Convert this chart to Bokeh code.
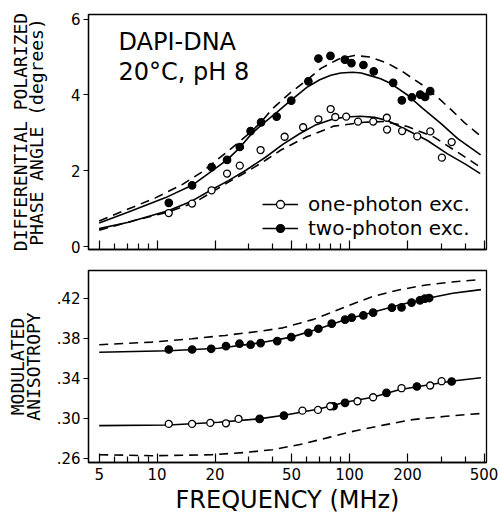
from bokeh.plotting import figure
from bokeh.layouts import column
from bokeh.models import (FixedTicker, LinearAxis, Legend, LegendItem, Range1d, Label,
                          CustomJSTickFormatter)
from bokeh.embed import file_html
from bokeh.resources import INLINE

# ---------------- data ----------------
# Top panel: differential polarized phase angle (degrees)
tp_f = [11.5, 15.2, 19.2, 23.1, 26.9, 30.6, 34.7, 41.8, 49.8, 61.1, 68.9, 79.6, 94.6,
        102.3, 118.1, 133.6, 168.6, 187, 210.9, 232.9, 247, 262.5]
tp_phase = [1.16, 1.62, 2.10, 2.29, 2.63, 3.05, 3.28, 3.43, 3.85, 4.36, 4.96, 5.03, 4.93,
            4.84, 4.79, 4.62, 4.32, 3.86, 3.94, 4.01, 3.95, 4.10]
op_f = [11.5, 15.2, 19.2, 23.1, 26.9, 34.5, 46.0, 57.4, 68.9, 79.8, 84.3, 96.1, 110.7,
        132.8, 156.3, 156.7, 187.6, 224.9, 263, 302, 339.6]
op_phase = [0.89, 1.14, 1.49, 1.93, 2.14, 2.55, 2.90, 3.15, 3.36, 3.63, 3.42, 3.43, 3.30,
            3.30, 3.40, 3.09, 3.05, 2.91, 3.04, 2.35, 2.76]

tp_fit_f = [5, 7.1, 11, 15.2, 19.3, 23.1, 26.5, 31, 35, 42, 49, 60, 70, 80, 90, 104, 115,
            128, 145, 164, 200, 240, 298, 365, 480]
tp_fit = [0.63, 0.92, 1.29, 1.62, 2.0, 2.29, 2.58, 2.98, 3.22, 3.55, 3.84, 4.2, 4.4, 4.52,
          4.58, 4.6, 4.58, 4.51, 4.43, 4.3, 4.0, 3.65, 3.25, 2.85, 2.42]
tp_dash_f = [5, 6.8, 9.8, 13.5, 17.1, 23.6, 30, 34, 40, 49, 62, 71, 88, 106, 128, 157, 188,
             235, 287, 336, 394, 485]
tp_dash = [0.68, 0.96, 1.29, 1.64, 1.97, 2.54, 2.98, 3.24, 3.65, 4.05, 4.45, 4.7, 4.95,
           5.04, 5.0, 4.84, 4.62, 4.29, 3.94, 3.62, 3.28, 2.9]
op_fit_f = [5, 7.1, 11.5, 15.2, 19.3, 23.6, 28.8, 36.6, 45, 55, 66, 80, 95, 114, 135, 157,
            200, 254, 323, 400, 478]
op_fit = [0.48, 0.65, 0.96, 1.21, 1.51, 1.75, 2.01, 2.36, 2.7, 2.98, 3.2, 3.35, 3.42, 3.44,
          3.41, 3.33, 3.07, 2.80, 2.45, 2.18, 1.93]
op_dash_f = [5, 7.7, 11.5, 15.8, 23.6, 30, 36.6, 44, 60, 83, 119, 151, 200, 275, 365, 492]
op_dash = [0.44, 0.70, 0.92, 1.18, 1.71, 2.01, 2.28, 2.55, 2.9, 3.18, 3.28, 3.30, 3.17,
           2.89, 2.49, 2.06]

# Bottom panel: modulated anisotropy
hi_f = [11.5, 15.2, 19.1, 22.8, 26.8, 30.6, 34.5, 42.1, 49.8, 61.1, 68.9, 80.8, 94.8,
        102.7, 118, 132.6, 166, 186.3, 210, 232.2, 246.4, 259.5]
hi_r = [0.3688, 0.3688, 0.3695, 0.3722, 0.3746, 0.3736, 0.3752, 0.3772, 0.3812, 0.3856,
        0.3896, 0.3947, 0.3987, 0.4007, 0.4030, 0.4057, 0.4107, 0.4110, 0.4158, 0.4181,
        0.4198, 0.4204]
lo_open_f = [11.5, 15.2, 18.9, 22.8, 26.5, 56.9, 68.6, 79.4, 110, 132.6, 186.3, 262.5, 301]
lo_open_r = [0.2942, 0.2942, 0.2952, 0.2948, 0.2992, 0.3075, 0.3082, 0.3119, 0.3169,
             0.3209, 0.3300, 0.3327, 0.3370]
lo_fill_f = [34.1, 45.6, 82.6, 94.8, 155.6, 223.9, 339.3]
lo_fill_r = [0.2992, 0.3025, 0.3119, 0.3153, 0.3253, 0.3317, 0.3367]

hi_fit_f = [5, 11.5, 20.9, 34.5, 49.8, 69.3, 94.8, 132, 181, 259.5, 343.6, 482]
hi_fit = [0.3661, 0.3675, 0.370, 0.3756, 0.3812, 0.3895, 0.3987, 0.4062, 0.4135, 0.4205,
          0.4252, 0.4288]
hi_dash_f = [5, 9.4, 15.2, 22.6, 33.9, 45, 65, 95, 130, 180, 250, 340, 482]
hi_dash = [0.3736, 0.3762, 0.3796, 0.3829, 0.387, 0.3905, 0.399, 0.4115, 0.4215, 0.4285,
           0.4335, 0.4365, 0.4389]
lo_fit_f = [5, 11.5, 20.9, 33.9, 46.5, 69.3, 94.8, 132, 181, 259.5, 343.6, 482]
lo_fit = [0.2925, 0.2931, 0.2958, 0.2992, 0.3032, 0.3092, 0.3159, 0.3209, 0.3285, 0.3335,
          0.3372, 0.3404]
lo_dash_f = [5, 9.4, 19.3, 28.8, 39.7, 56.9, 78.2, 107.7, 152, 212.5, 317, 492]
lo_dash = [0.2633, 0.2623, 0.2633, 0.2656, 0.2683, 0.274, 0.2807, 0.2874, 0.2932, 0.2985,
           0.3018, 0.3048]

# ticks
x_ticks = [5, 10, 20, 50, 100, 200, 500]
x_tick_labels = ["5", "10", "20", "50", "100", "200", "500"]
x_minor = [6, 7, 8, 9, 30, 40, 60, 70, 80, 90, 300, 400]
y1_ticks = [0, 2, 4, 6]
y2_ticks = [0.26, 0.30, 0.34, 0.38, 0.42]
y2_tick_labels = [".26", ".30", ".34", ".38", ".42"]

FONT = "DejaVu Sans"
MONO = "DejaVu Sans Mono"
DASH = "9 6"


def base_style(p):
    p.grid.visible = False
    p.outline_line_color = "black"
    p.outline_line_width = 1.3
    p.background_fill_color = "white"
    p.border_fill_color = "white"
    for ax in p.xaxis + p.yaxis:
        ax.axis_line_width = 1.3
        ax.major_tick_line_width = 1.2
        ax.minor_tick_line_width = 1.2
        ax.major_label_text_font = FONT
        ax.major_label_text_font_size = "15px"
        ax.major_label_text_color = "black"
        ax.axis_label_text_font_style = "normal"
        ax.axis_label_text_color = "black"
    xa = p.xaxis[0]
    xa.ticker = FixedTicker(ticks=x_ticks, minor_ticks=x_minor)
    xa.major_tick_in = 9
    xa.major_tick_out = 0
    xa.minor_tick_in = 6
    xa.minor_tick_out = 0
    ya = p.yaxis[0]
    ya.major_tick_in = 0
    ya.major_tick_out = 5
    ya.minor_tick_line_color = None
    ya.major_label_standoff = 3
    ya.axis_label_text_font = MONO


def outer_label(p, text, size, standoff):
    ax = LinearAxis(axis_label=text, ticker=FixedTicker(ticks=[]))
    ax.axis_line_color = None
    ax.major_tick_line_color = None
    ax.minor_tick_line_color = None
    ax.major_tick_out = 0
    ax.major_tick_in = 0
    ax.major_label_standoff = 0
    ax.axis_label_standoff = standoff
    ax.axis_label_text_font = MONO
    ax.axis_label_text_font_size = size
    ax.axis_label_text_font_style = "normal"
    ax.axis_label_text_color = "black"
    p.add_layout(ax, "left")


# ---------------- top panel ----------------
p1 = figure(frame_width=398, frame_height=235, x_axis_type="log",
            x_range=Range1d(4.4, 515), y_range=Range1d(-0.07, 6.12),
            output_backend="svg", toolbar_location=None,
            min_border_left=88, min_border_right=12, min_border_top=14, min_border_bottom=11)
base_style(p1)
p1.xaxis.formatter = CustomJSTickFormatter(code="return ''")
p1.xaxis.major_label_text_font_size = "1px"
p1.xaxis.major_label_standoff = 0
p1.yaxis[0].ticker = FixedTicker(ticks=y1_ticks)
p1.yaxis[0].axis_label = "PHASE ANGLE (degrees)"
p1.yaxis[0].axis_label_text_font_size = "18px"
p1.yaxis[0].axis_label_standoff = 21
outer_label(p1, "DIFFERENTIAL POLARIZED", "18px", -8)

p1.line(tp_dash_f, tp_dash, line_color="black", line_width=1.6, line_dash=DASH)
p1.line(op_dash_f, op_dash, line_color="black", line_width=1.6, line_dash=DASH)
r_tp_fit = p1.line(tp_fit_f, tp_fit, line_color="black", line_width=1.6)
r_op_fit = p1.line(op_fit_f, op_fit, line_color="black", line_width=1.6)
r_tp = p1.scatter(tp_f, tp_phase, marker="circle", size=7.5, fill_color="black",
                  line_color="black", line_width=1.2)
r_op = p1.scatter(op_f, op_phase, marker="circle", size=7, fill_color="white",
                  line_color="black", line_width=1.3)

leg = Legend(items=[LegendItem(label="one-photon exc.", renderers=[r_op_fit, r_op]),
                    LegendItem(label="two-photon exc.", renderers=[r_tp_fit, r_tp])],
             location=(174, 9), orientation="vertical", glyph_width=36, glyph_height=20,
             label_height=20, spacing=0, label_standoff=10, padding=0, margin=0,
             background_fill_alpha=0, border_line_alpha=0,
             label_text_font=FONT, label_text_font_size="20px", label_text_color="black")
p1.add_layout(leg)

p1.add_layout(Label(x=6.3, y=5.40, text="DAPI-DNA", text_font=FONT, text_font_size="24px",
                    text_baseline="alphabetic", text_color="black"))
p1.add_layout(Label(x=6.3, y=4.61, text="20°C, pH 8", text_font=FONT, text_font_size="24px",
                    text_baseline="alphabetic", text_color="black"))

# ---------------- bottom panel ----------------
p2 = figure(frame_width=398, frame_height=192, x_axis_type="log",
            x_range=Range1d(4.4, 515), y_range=Range1d(0.2555, 0.448),
            output_backend="svg", toolbar_location=None,
            min_border_left=88, min_border_right=12, min_border_top=10, min_border_bottom=50)
base_style(p2)
p2.xaxis.major_label_overrides = dict(zip(x_ticks, x_tick_labels))
p2.xaxis.major_label_standoff = 5
p2.xaxis.axis_label = "FREQUENCY (MHz)"
p2.xaxis.axis_label_text_font = FONT
p2.xaxis.axis_label_text_font_size = "24px"
p2.xaxis.axis_label_standoff = 3
p2.yaxis[0].ticker = FixedTicker(ticks=y2_ticks)
p2.yaxis[0].major_label_overrides = dict(zip(y2_ticks, y2_tick_labels))
p2.yaxis[0].axis_label = "ANISOTROPY"
p2.yaxis[0].axis_label_text_font_size = "18px"
p2.yaxis[0].axis_label_standoff = 10
outer_label(p2, "MODULATED", "18px", -8)

p2.line(hi_dash_f, hi_dash, line_color="black", line_width=1.6, line_dash=DASH)
p2.line(lo_dash_f, lo_dash, line_color="black", line_width=1.6, line_dash=DASH)
p2.line(hi_fit_f, hi_fit, line_color="black", line_width=1.6)
p2.line(lo_fit_f, lo_fit, line_color="black", line_width=1.6)
p2.scatter(hi_f, hi_r, marker="circle", size=7.5, fill_color="black", line_color="black",
           line_width=1.2)
p2.scatter(lo_fill_f, lo_fill_r, marker="circle", size=7.5, fill_color="black",
           line_color="black", line_width=1.2)
p2.scatter(lo_open_f, lo_open_r, marker="circle", size=7, fill_color="white",
           line_color="black", line_width=1.3)

layout = column(p1, p2, spacing=0)
open("out.html", "w").write(file_html(layout, INLINE))
